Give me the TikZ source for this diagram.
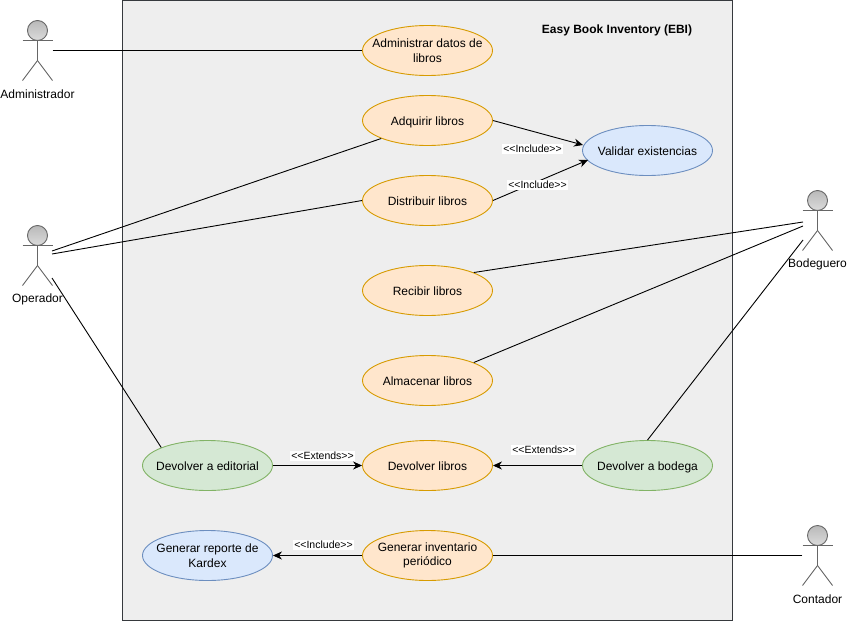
\documentclass[tikz,border=0pt]{standalone}
\usepackage{fontspec}
\setmainfont{Liberation Sans}
\usetikzlibrary{arrows.meta,calc,shapes.geometric}

\definecolor{boxgray}{HTML}{EEEEEE}
\definecolor{boxline}{HTML}{36393D}
\definecolor{orangefill}{HTML}{FFE6CC}
\definecolor{orangeline}{HTML}{D79B00}
\definecolor{bluefill}{HTML}{DAE8FC}
\definecolor{blueline}{HTML}{6C8EBF}
\definecolor{greenfill}{HTML}{D5E8D4}
\definecolor{greenline}{HTML}{82B366}
\definecolor{actorline}{HTML}{666666}

\tikzset{
    usecase/.style={ellipse,draw,line width=0.9pt,minimum width=130pt,minimum height=50pt,
        inner xsep=-30pt,inner ysep=-16pt,align=center,text height=11pt,text depth=2pt,
        font=\fontsize{12}{14.5}\selectfont},
    twolines/.style={text height=,text depth=,yshift=0pt},
    orangecase/.style={usecase,fill=orangefill,draw=orangeline},
    bluecase/.style={usecase,fill=bluefill,draw=blueline},
    greencase/.style={usecase,fill=greenfill,draw=greenline},
    actorbox/.style={minimum width=30pt,minimum height=60pt,inner sep=0pt},
    actorname/.style={font=\fontsize{12}{14}\selectfont,inner sep=0pt},
    steplabel/.style={fill=white,inner sep=1pt,font=\fontsize{10.5}{12}\selectfont},
    link/.style={line width=0.9pt},
    linkarrow/.style={link,-{Stealth[length=9pt,width=8pt]}},
}

\newcommand{\actorman}[3]{%
    \node[actorbox] (#1) at (#2) {};
    \draw[actorline,line width=0.9pt] (#1.center) ++(0,-20) -- ++(0,30) -- ++(-15,20);
    \draw[actorline,line width=0.9pt] (#1.center) ++(0,10) -- ++(15,20);
    \draw[actorline,line width=0.9pt] (#1.center) ++(-15,-10) -- ++(30,0);
    \draw[actorline,line width=0.9pt,top color=gray!55,bottom color=gray!15] (#1.center) ++(0,-20) circle (10pt);
    \node[actorname] (#1name) at ($(#1.center)+(0,43.5)$) {#3};
}

\begin{document}
\begin{tikzpicture}[x=1pt,y=-1pt]
    \useasboundingbox (0,0) rectangle (848,621);
    \draw[fill=boxgray,draw=boxline,line width=0.9pt] (122.5,0.5) rectangle (732.5,620.5);
    \node[font=\bfseries\fontsize{12}{14}\selectfont] (title) at (617,30.5) {Easy Book Inventory (EBI)};

    \node[orangecase,twolines] (administrar) at (427.5,50.5) {Administrar datos de\\libros};
    \node[orangecase] (adquirir) at (427.5,120.5) {Adquirir libros};
    \node[orangecase] (distribuir) at (427.5,200.5) {Distribuir libros};
    \node[orangecase] (recibir) at (427.5,290.5) {Recibir libros};
    \node[orangecase] (almacenar) at (427.5,380.5) {Almacenar libros};
    \node[orangecase] (devolver) at (427.5,465.5) {Devolver libros};
    \node[orangecase,twolines] (inventario) at (427.5,555.5) {Generar inventario\\periódico};
    \node[bluecase] (validar) at (647.5,150.5) {Validar existencias};
    \node[bluecase,twolines] (kardex) at (207.5,555.5) {Generar reporte de\\Kardex};
    \node[greencase] (editorial) at (207.5,465.5) {Devolver a editorial};
    \node[greencase] (bodega) at (647.5,465.5) {Devolver a bodega};

    \actorman{administrador}{37.5,50.5}{Administrador}
    \actorman{operador}{37.5,255.5}{Operador}
    \actorman{bodeguero}{817.5,220.5}{Bodeguero}
    \actorman{contador}{817.5,555.5}{Contador}

    \coordinate (opa) at (52,251);
    \coordinate (opb) at (52,254);
    \coordinate (opc) at (52,278);
    \coordinate (boa) at (803,222);
    \coordinate (bob) at (803,226);
    \coordinate (boc) at (803,240);
    \coordinate (vala) at (583,145);
    \coordinate (valb) at (588,160);

    \draw[link] (administrador.east) -- (administrar.west);
    \draw[link] (opa) -- (adquirir.south west);
    \draw[link] (opb) -- (distribuir.west);
    \draw[link] (opc) -- (editorial.north west);
    \draw[link] (boa) -- (recibir.north east);
    \draw[link] (bob) -- (almacenar.north east);
    \draw[link] (boc) -- (bodega.north);
    \draw[link] (contador.west) -- (inventario.east);

    \draw[linkarrow] (adquirir.east) -- (vala);
    \draw[linkarrow] (distribuir.east) -- (valb);
    \draw[linkarrow] (editorial.east) -- (devolver.west);
    \draw[linkarrow] (bodega.west) -- (devolver.east);
    \draw[linkarrow] (inventario.west) -- (kardex.east);

    \node[steplabel] (incla) at (532.5,149) {{<}{<}Include{>}{>}};
    \node[steplabel] (inclb) at (537.5,185) {{<}{<}Include{>}{>}};
    \node[steplabel] (exta) at (322.5,456) {{<}{<}Extends{>}{>}};
    \node[steplabel] (extb) at (543.5,450) {{<}{<}Extends{>}{>}};
    \node[steplabel] (inclc) at (323.5,545) {{<}{<}Include{>}{>}};
\end{tikzpicture}
\end{document}
